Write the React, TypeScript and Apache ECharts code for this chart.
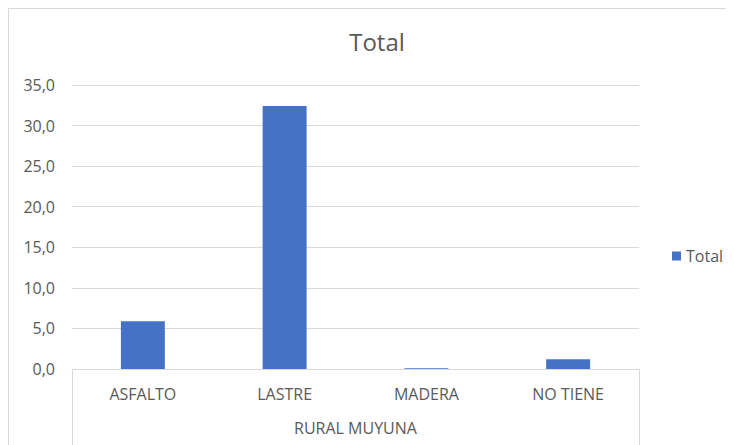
import React, { useEffect, useRef } from "react";
import * as echarts from "echarts";

const categories = ["ASFALTO", "LASTRE", "MADERA", "NO TIENE"];
const groupLabel = ["RURAL MUYUNA"];
const totalValues = [5.9, 32.4, 0.1, 1.2];
const seriesName = "Total";
const titleText = "Total";

const FONT = "'Open Sans', Lato, sans-serif";
const TEXT = "#595959";
const GRID = "#d9d9d9";

export default function App() {
  const ref = useRef<HTMLDivElement>(null);
  useEffect(() => {
    document.documentElement.style.overflow = "hidden";
    document.body.style.overflow = "hidden";
    if (!ref.current) return;
    const chart = echarts.init(ref.current, undefined, { renderer: "svg" });
    chart.setOption({
      animation: false,
      backgroundColor: "#ffffff",
      textStyle: { fontFamily: FONT },
      title: {
        text: titleText,
        left: 368,
        textAlign: "center",
        top: 20,
        padding: 0,
        textStyle: { fontFamily: FONT, fontSize: 24, fontWeight: "normal", color: TEXT },
      },
      legend: {
        data: [seriesName],
        left: 663,
        top: 239,
        padding: 0,
        itemWidth: 9,
        itemHeight: 9,
        itemGap: 6,
        icon: "rect",
        textStyle: { fontFamily: FONT, fontSize: 16, color: TEXT, padding: [0, 0, 0, 0] },
      },
      grid: { left: 63, right: 95, top: 76, bottom: 76, containLabel: false },
      xAxis: [
        {
          type: "category",
          data: categories,
          position: "bottom",
          axisLine: { show: true, lineStyle: { color: GRID, width: 1 } },
          axisTick: { show: false },
          axisLabel: { margin: 17, fontFamily: FONT, fontSize: 16, color: TEXT },
        },
        {
          type: "category",
          data: groupLabel,
          position: "bottom",
          boundaryGap: true,
          axisLine: { show: false },
          axisTick: { show: true, length: 80, lineStyle: { color: GRID, width: 1 } },
          axisLabel: { margin: 51, fontFamily: FONT, fontSize: 16, color: TEXT },
        },
      ],
      yAxis: {
        type: "value",
        min: 0,
        max: 35,
        interval: 5,
        axisLine: { show: false },
        axisTick: { show: false },
        splitLine: { lineStyle: { color: GRID, width: 1 } },
        axisLabel: {
          margin: 17,
          fontFamily: FONT,
          fontSize: 16,
          color: TEXT,
          formatter: (v: number) => v.toFixed(1).replace(".", ","),
        },
      },
      series: [
        {
          name: seriesName,
          type: "bar",
          xAxisIndex: 0,
          data: totalValues,
          barWidth: "31%",
          itemStyle: { color: "#4472C4" },
        },
      ],
    });
    return () => chart.dispose();
  }, []);
  return (
    <div
      style={{
        width: 760,
        height: 470,
        boxSizing: "border-box",
        borderTop: "1px solid #d9d9d9",
        borderLeft: "1px solid #d9d9d9",
        overflow: "hidden",
      }}
    >
      <div ref={ref} style={{ width: 725, height: 436 }} />
    </div>
  );
}
